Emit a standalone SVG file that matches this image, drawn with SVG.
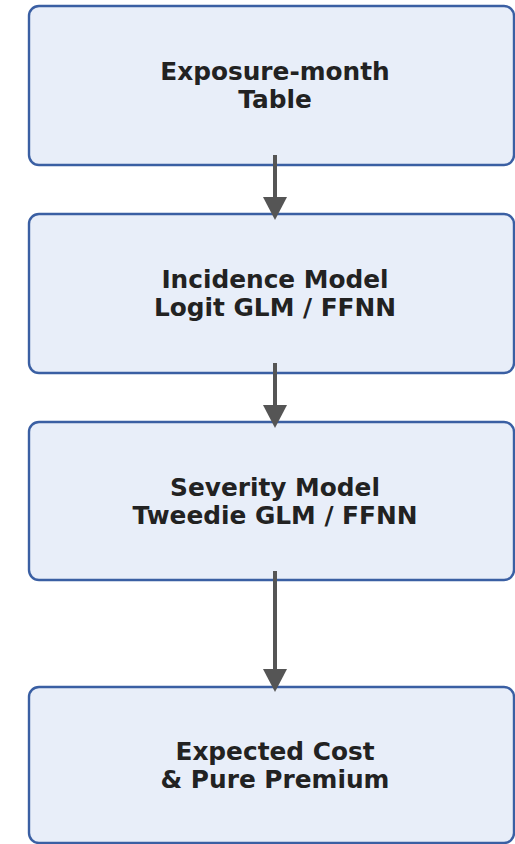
<svg xmlns="http://www.w3.org/2000/svg" width="515" height="844" viewBox="0 0 515 844">
<style>
.box{fill:#e8eef9;stroke:#3a5fa3;stroke-width:2.4}
.lbl{font-family:"DejaVu Sans",sans-serif;font-weight:bold;font-size:24.8px;fill:#222;text-anchor:middle}
.edge{stroke:#555;stroke-width:4;fill:none}
.head{fill:#555}
</style>
<rect width="515" height="844" fill="#fff"/>
<g id="n1">
<rect class="box" x="29" y="6" width="485" height="159" rx="10"/>
<text class="lbl" x="275" y="80">Exposure-month</text>
<text class="lbl" x="275" y="108">Table</text>
</g>
<g id="n2">
<rect class="box" x="29" y="214" width="485" height="159" rx="10"/>
<text class="lbl" x="275" y="288">Incidence Model</text>
<text class="lbl" x="275" y="316">Logit GLM / FFNN</text>
</g>
<g id="n3">
<rect class="box" x="29" y="422" width="485" height="158" rx="10"/>
<text class="lbl" x="275" y="496">Severity Model</text>
<text class="lbl" x="275" y="524">Tweedie GLM / FFNN</text>
</g>
<g id="n4">
<rect class="box" x="29" y="687" width="485" height="156" rx="10"/>
<text class="lbl" x="275" y="760">Expected Cost</text>
<text class="lbl" x="275" y="788">&amp; Pure Premium</text>
</g>
<g id="connectors">
<line class="edge" x1="275" y1="155" x2="275" y2="198"/>
<path class="head" d="M263,197 L287,197 L275,220 Z"/>
<line class="edge" x1="275" y1="363" x2="275" y2="406"/>
<path class="head" d="M263,405 L287,405 L275,428 Z"/>
<line class="edge" x1="275" y1="571" x2="275" y2="670"/>
<path class="head" d="M263,669 L287,669 L275,692 Z"/>
</g>
</svg>
